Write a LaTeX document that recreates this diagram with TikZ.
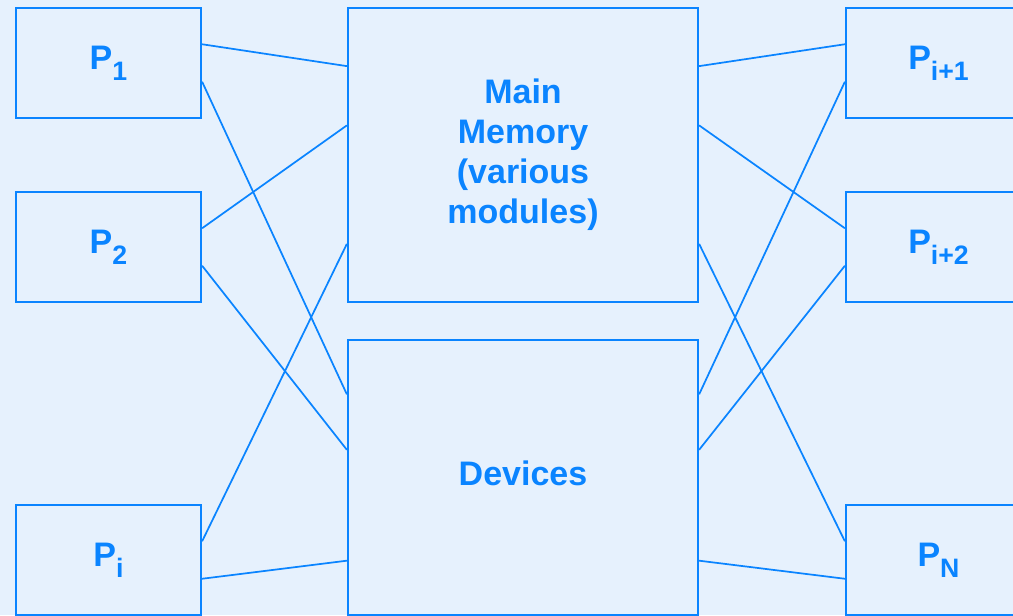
\documentclass[tikz,border=0pt]{standalone}
\usepackage{fontspec}
\setmainfont{Liberation Sans}
\usepackage{tikz}
\usetikzlibrary{calc}

\definecolor{bgblue}{RGB}{230,241,253}
\definecolor{lineblue}{RGB}{10,132,255}

\newcommand{\Psub}[1]{P\raisebox{-8pt}{\fontsize{20}{20}\selectfont #1}}

\begin{document}
\begin{tikzpicture}[
    x=0.75pt, y=-0.75pt,
    proc/.style={draw=lineblue, line width=1.7pt, fill=bgblue, text=lineblue,
                 minimum width=138.75pt, minimum height=82.5pt, inner sep=0pt,
                 font=\fontsize{25.5}{30}\selectfont\bfseries},
    unit/.style={draw=lineblue, line width=1.7pt, fill=bgblue, text=lineblue,
                 minimum width=262.5pt, align=center, inner sep=0pt,
                 font=\fontsize{25.5}{30}\selectfont\bfseries},
    link/.style={draw=lineblue, line width=1.3pt}]
  \useasboundingbox[fill=bgblue] (0,0) rectangle (1013,615);
  \clip (0,0) rectangle (1013,615);

  % processors on the left
  \node[proc] (p1) at (108.5,63)  {\Psub{1}};
  \node[proc] (p2) at (108.5,247) {\Psub{2}};
  \node[proc] (pi) at (108.5,560) {\Psub{i}};

  % shared units in the middle
  \node[unit, minimum height=220.5pt] (mem) at (523,155)
       {Main\\Memory\\(various\\modules)};
  \node[unit, minimum height=206.25pt] (dev) at (523,477.5)
       {Devices\\[-24pt]\mbox{}};

  % processors on the right
  \node[proc] (pa) at (938.5,63)  {\Psub{i+1}};
  \node[proc] (pb) at (938.5,247) {\Psub{i+2}};
  \node[proc] (pn) at (938.5,560) {\Psub{N}};

  % left links
  \draw[link] ($(p1.north east)!0.333!(p1.south east)$) -- ($(mem.north west)!0.2!(mem.south west)$);
  \draw[link] ($(p1.north east)!0.667!(p1.south east)$) -- ($(dev.north west)!0.2!(dev.south west)$);
  \draw[link] ($(p2.north east)!0.333!(p2.south east)$) -- ($(mem.north west)!0.4!(mem.south west)$);
  \draw[link] ($(p2.north east)!0.667!(p2.south east)$) -- ($(dev.north west)!0.4!(dev.south west)$);
  \draw[link] ($(pi.north east)!0.333!(pi.south east)$) -- ($(mem.north west)!0.8!(mem.south west)$);
  \draw[link] ($(pi.north east)!0.667!(pi.south east)$) -- ($(dev.north west)!0.8!(dev.south west)$);

  % right links
  \draw[link] ($(mem.north east)!0.2!(mem.south east)$) -- ($(pa.north west)!0.333!(pa.south west)$);
  \draw[link] ($(dev.north east)!0.2!(dev.south east)$) -- ($(pa.north west)!0.667!(pa.south west)$);
  \draw[link] ($(mem.north east)!0.4!(mem.south east)$) -- ($(pb.north west)!0.333!(pb.south west)$);
  \draw[link] ($(dev.north east)!0.4!(dev.south east)$) -- ($(pb.north west)!0.667!(pb.south west)$);
  \draw[link] ($(mem.north east)!0.8!(mem.south east)$) -- ($(pn.north west)!0.333!(pn.south west)$);
  \draw[link] ($(dev.north east)!0.8!(dev.south east)$) -- ($(pn.north west)!0.667!(pn.south west)$);
\end{tikzpicture}
\end{document}
